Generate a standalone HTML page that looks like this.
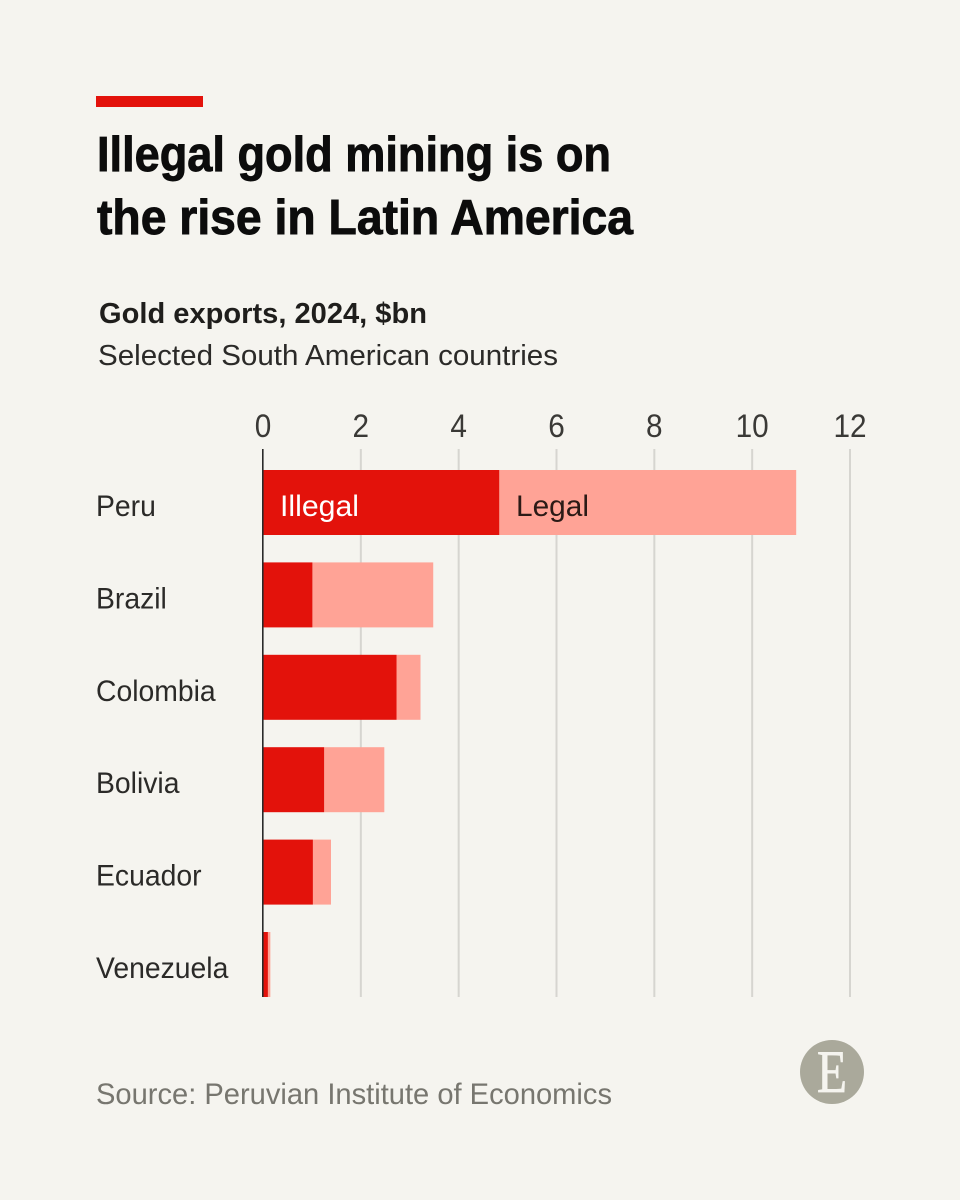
<!DOCTYPE html>
<html lang="en">
<head>
<meta charset="utf-8">
<title>Illegal gold mining is on the rise in Latin America</title>
<style>
html,body{margin:0;padding:0;background:#f5f4ef;}
#stage{display:block;width:960px;height:1200px;font-family:"Liberation Sans",Arial,sans-serif;}
</style>
</head>
<body>
<svg id="stage" xmlns="http://www.w3.org/2000/svg" width="960" height="1200" viewBox="0 0 960 1200">
  <rect x="0" y="0" width="960" height="1200" fill="#f5f4ef"/>
  <rect x="96" y="96" width="107" height="11" fill="#e3120b"/>
  <text x="97" y="171" font-size="49" font-weight="700" fill="#0c0c0c" stroke="#0c0c0c" stroke-width="0.9" textLength="514" lengthAdjust="spacingAndGlyphs">Illegal gold mining is on</text>
  <text x="97" y="234" font-size="49" font-weight="700" fill="#0c0c0c" stroke="#0c0c0c" stroke-width="0.9" textLength="536" lengthAdjust="spacingAndGlyphs">the rise in Latin America</text>
  <text x="99" y="323" font-size="29" font-weight="700" fill="#1f1e1c" textLength="328" lengthAdjust="spacingAndGlyphs">Gold exports, 2024, $bn</text>
  <text x="98" y="365" font-size="29" fill="#2b2a28" textLength="460" lengthAdjust="spacingAndGlyphs">Selected South American countries</text>
  <g id="grid"></g>
  <g id="ticks"></g>
  <g id="bars"></g>
  <g id="cats"></g>
  <rect x="262" y="449" width="1.6" height="548" fill="#2a2a2a"/>
  <text x="280" y="516" font-size="30" fill="#ffffff" textLength="79" lengthAdjust="spacingAndGlyphs">Illegal</text>
  <text x="516" y="516" font-size="30" fill="#2b1a16" textLength="73" lengthAdjust="spacingAndGlyphs">Legal</text>
  <text x="96" y="1104" font-size="30" fill="#77766f" textLength="516" lengthAdjust="spacingAndGlyphs">Source: Peruvian Institute of Economics</text>
  <circle cx="832" cy="1072" r="32" fill="#aaa99b"/>
  <text x="817" y="1092" font-size="60" fill="#f5f4ef" stroke="#f5f4ef" stroke-width="0.8" textLength="30" lengthAdjust="spacingAndGlyphs" style="font-family:'Liberation Serif',serif">E</text>
</svg>
<script>
const countries = ["Peru", "Brazil", "Colombia", "Bolivia", "Ecuador", "Venezuela"];
const illegalValues = [4.83, 1.01, 2.73, 1.25, 1.02, 0.1];
const legalValues = [6.07, 2.47, 0.49, 1.23, 0.37, 0.05];
const tickValues = [0, 2, 4, 6, 8, 10, 12];

const SVG_NS = "http://www.w3.org/2000/svg";
const X0 = 263, X12 = 850, AXIS_MAX = 12;
const ROW_TOP = 470, ROW_STEP = 92.4, BAR_H = 65;
function xScale(v) { return X0 + (v / AXIS_MAX) * (X12 - X0); }
function yScale(i) { return ROW_TOP + i * ROW_STEP; }
function make(tag, attrs) {
  const el = document.createElementNS(SVG_NS, tag);
  for (const k in attrs) el.setAttribute(k, attrs[k]);
  return el;
}

const gridGroup = document.getElementById("grid");
const tickGroup = document.getElementById("ticks");
tickValues.forEach(function (t) {
  const x = xScale(t);
  if (t !== 0) {
    const line = make("rect", { x: x - 1, y: 449, width: 2, height: 548, fill: "#d6d5d0" });
    
    
    gridGroup.appendChild(line);
  }
  const label = make("text", { transform: "translate(" + x + ",437) scale(0.93,1)", "font-size": 32, "text-anchor": "middle", fill: "#3a3936" });
  
  
  label.textContent = String(t);
  tickGroup.appendChild(label);
});

const barGroup = document.getElementById("bars");
const catGroup = document.getElementById("cats");
countries.forEach(function (name, i) {
  const y = yScale(i);
  const illegalEnd = xScale(illegalValues[i]);
  const totalEnd = xScale(illegalValues[i] + legalValues[i]);

  const legal = make("rect", { x: illegalEnd, y: y, width: totalEnd - illegalEnd, height: BAR_H, fill: "#ffa396" });
  
  
  barGroup.appendChild(legal);

  const illegal = make("rect", { x: X0, y: y, width: illegalEnd - X0, height: BAR_H, fill: "#e3120b" });
  
  
  barGroup.appendChild(illegal);

  const label = make("text", { transform: "translate(96," + (y + 46) + ") scale(0.945,1)", "font-size": 30, fill: "#2b2a28" });
  
  
  label.textContent = name;
  catGroup.appendChild(label);
});
</script>
</body>
</html>
